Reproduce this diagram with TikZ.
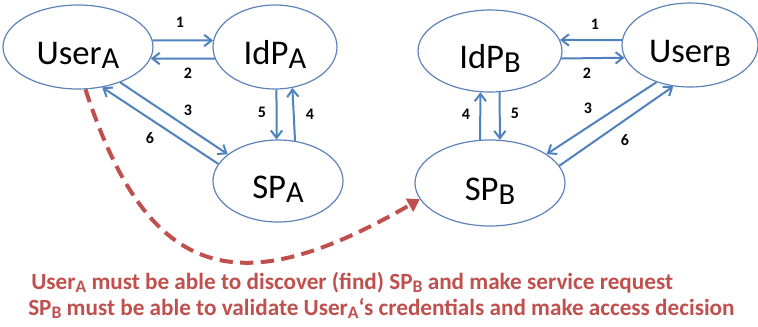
\documentclass[tikz,border=0pt]{standalone}
\usepackage{fontspec}
\setmainfont{Carlito}
\usetikzlibrary{positioning,arrows.meta,shapes.geometric}
\definecolor{ovblue}{HTML}{4F81BD}
\definecolor{ovline}{HTML}{5E83BA}
\definecolor{ovred}{HTML}{C0504D}
\newcommand{\sbig}[1]{\raisebox{-0.12em}{\scalebox{0.88}{#1}}}
\newcommand{\ssmall}[1]{\raisebox{-0.17em}[0.5em][0pt]{\scalebox{0.76}{#1}}}

\begin{document}
\begin{tikzpicture}[x=0.75pt,y=-0.75pt,
  ent/.style={ellipse,draw=ovline,line width=0.9pt,inner sep=0pt,text height=26pt,text depth=0pt,font=\fontsize{26}{26}\selectfont},
  fl/.style={-{Straight Barb[length=5.5pt,width=8.5pt]},line width=1.5pt,ovblue},
  num/.style={font=\fontsize{12}{12}\selectfont\bfseries},
  note/.style={anchor=base west,inner sep=0pt,text=ovred,font=\fontsize{17.4}{18}\selectfont\bfseries},
  disc/.style={-{Triangle[length=9pt,width=11pt]},line width=3pt,ovred,dash pattern=on 10pt off 5.5pt}]
\useasboundingbox (0,0) rectangle (758,326);
% Domain A
\node[ent,minimum width=112.5pt,minimum height=63pt] (usera) at (78,47) {User\sbig{A}};
\node[ent,minimum width=93pt,minimum height=63pt] (idpa) at (275,47) {IdP\sbig{A}};
\node[ent,minimum width=97.5pt,minimum height=61.5pt] (spa) at (278,181) {SP\sbig{A}};
\draw[fl] (usera.5) -- (idpa.174);
\draw[fl] (idpa.-169) -- (usera.-9);
\draw[fl] (usera.-40) -- (spa.152);
\draw[fl] (spa.164) -- (usera.-59);
\draw[fl] (idpa.-88) -- (spa.92);
\draw[fl] (spa.67) -- (idpa.-67);
\node[num] (a1) at (180,22) {1};
\node[num] (a2) at (188,73) {2};
\node[num] (a3) at (188,110) {3};
\node[num] (a6) at (150,138) {6};
\node[num] (a5) at (262,112) {5};
\node[num] (a4) at (310,114) {4};
% Domain B
\node[ent,minimum width=108pt,minimum height=61.5pt] (idpb) at (490,51) {IdP\sbig{B}};
\node[ent,minimum width=102pt,minimum height=63pt] (userb) at (690,45) {User\sbig{B}};
\node[ent,minimum width=112.5pt,minimum height=64.5pt] (spb) at (490,183) {SP\sbig{B}};
\draw[fl] (userb.176) -- (idpb.9);
\draw[fl] (idpb.-6) -- (userb.-169);
\draw[fl] (spb.103) -- (idpb.-103);
\draw[fl] (idpb.-77) -- (spb.77);
\draw[fl] (userb.-132) -- (spb.27);
\draw[fl] (spb.14) -- (userb.-112);
\node[num] (b1) at (595,24) {1};
\node[num] (b2) at (587,73) {2};
\node[num] (b4) at (466,114) {4};
\node[num] (b5) at (515,113) {5};
\node[num] (b3) at (588,108) {3};
\node[num] (b6) at (625,140) {6};
% discovery
\draw[disc] (usera.-80) to[out=-72,in=210,looseness=1.5] (spb.193);
\node[note] (note1) at (31,289) {User\ssmall{A} must be able to discover (find) SP\ssmall{B} and make service request};
\node[note] (note2) at (28,315) {SP\ssmall{B} must be able to validate User\ssmall{A}`s credentials and make access decision};
\end{tikzpicture}
\end{document}
